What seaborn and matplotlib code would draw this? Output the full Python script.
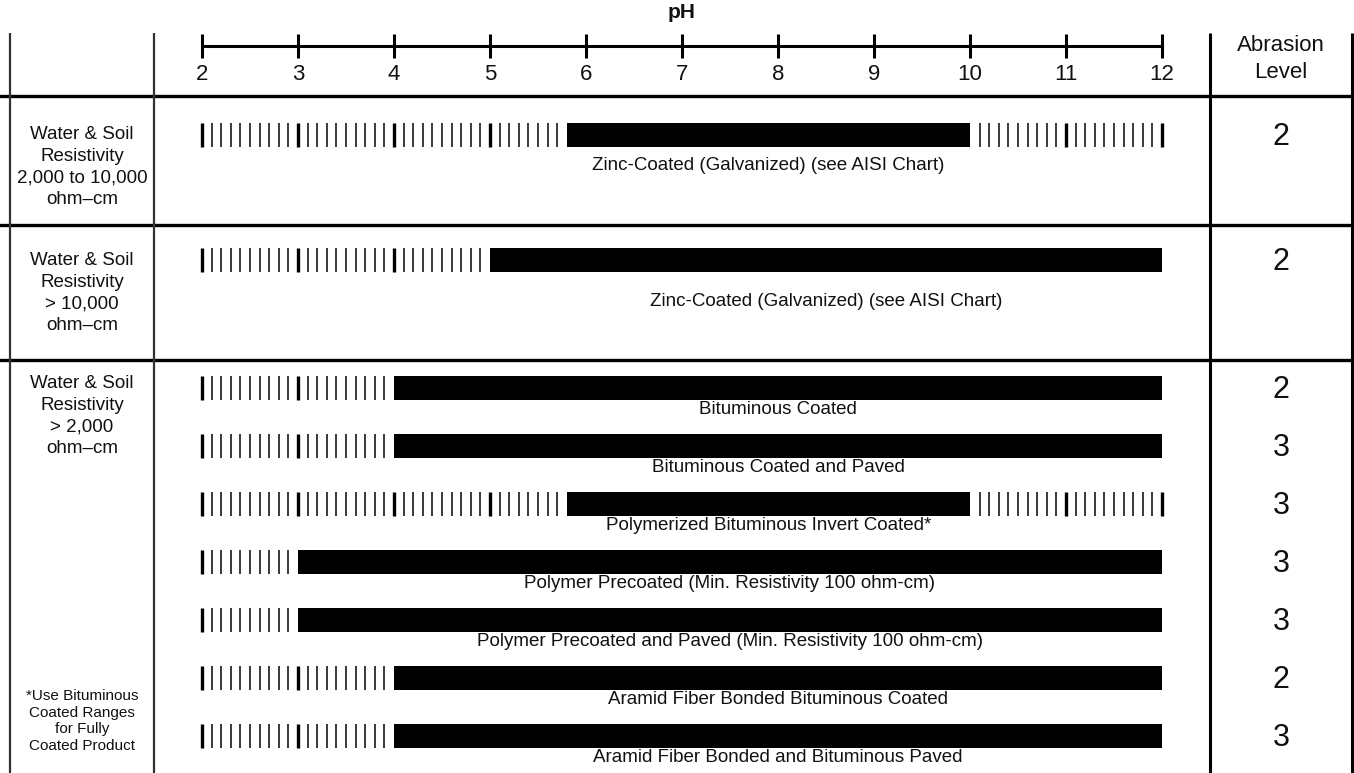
"""
Corrosion / abrasion pH range chart - table style with hatched and solid ranges
"""

import numpy as np
import matplotlib.pyplot as plt
import seaborn as sns

sns.set_theme(style="white")
plt.rcParams['font.family'] = ['Liberation Sans', 'DejaVu Sans']
plt.rcParams['text.color'] = '#111111'

# ==================================================================================
# DATA
# ==================================================================================
ph_ticks = [2, 3, 4, 5, 6, 7, 8, 9, 10, 11, 12]

group_labels = [
    "Water & Soil\nResistivity\n2,000 to 10,000\nohm\u2013cm",
    "Water & Soil\nResistivity\n> 10,000\nohm\u2013cm",
    "Water & Soil\nResistivity\n> 2,000\nohm\u2013cm",
]

products = [
    "Zinc-Coated (Galvanized) (see AISI Chart)",
    "Zinc-Coated (Galvanized) (see AISI Chart)",
    "Bituminous Coated",
    "Bituminous Coated and Paved",
    "Polymerized Bituminous Invert Coated*",
    "Polymer Precoated (Min. Resistivity 100 ohm-cm)",
    "Polymer Precoated and Paved (Min. Resistivity 100 ohm-cm)",
    "Aramid Fiber Bonded Bituminous Coated",
    "Aramid Fiber Bonded and Bituminous Paved",
]
product_group = [0, 1, 2, 2, 2, 2, 2, 2, 2]

# solid = recommended range, hatched = rest of the 2-12 scale
solid_start = [5.8, 5.0, 4.0, 4.0, 5.8, 3.0, 3.0, 4.0, 4.0]
solid_end = [10.0, 12.0, 12.0, 12.0, 10.0, 12.0, 12.0, 12.0, 12.0]
scale_min, scale_max = 2, 12

abrasion = [2, 2, 2, 3, 3, 3, 3, 2, 3]

footnote = "*Use Bituminous\nCoated Ranges\nfor Fully\nCoated Product"

# ==================================================================================
# LAYOUT (y in pixel-like units, x in pH units)
# ==================================================================================
W, H = 1354, 773
x_left = 2 - 202 / 96
x_right = 2 + (W - 202) / 96

bar_y = [135, 260, 388, 446, 504, 562, 620, 678, 736]
label_dy = [30, 42, 21, 21, 21, 21, 21, 21, 21]
bar_h = 24
group_label_y = [167, 293, 416]
row_lines = [96, 225, 360]
col_lines = [0.0, 1.5, 12.5, 13.98]
col_line_w = [1.6, 1.6, 2.2, 2.2]

fig = plt.figure(figsize=(W / 100, H / 100), dpi=100)
ax = fig.add_axes([0, 0, 1, 1])
ax.set_xlim(x_left, x_right)
ax.set_ylim(H, 0)
ax.axis('off')

# table grid
for y in row_lines:
    ax.axhline(y, color='black', lw=2.4)
for x, lw in zip(col_lines, col_line_w):
    ax.vlines(x, 33, H, color='black' if lw > 2 else '#333333', lw=lw)

# pH scale
ax.hlines(46, scale_min, scale_max, color='black', lw=2.2)
ax.vlines(ph_ticks, 34, 58, color='black', lw=2.2)
for t in ph_ticks:
    ax.text(t, 74, str(t), ha='center', va='center', fontsize=16)
ax.text(7, 12, "pH", ha='center', va='center', fontsize=15, fontweight='bold')

ax.text((col_lines[2] + col_lines[3]) / 2, 59, "Abrasion\nLevel", ha='center',
        va='center', fontsize=16, linespacing=1.4)

# group labels
left_mid = (col_lines[0] + col_lines[1]) / 2
for lab, y in zip(group_labels, group_label_y):
    ax.text(left_mid, y, lab, ha='center', va='center', fontsize=13.5, linespacing=1.38)
ax.text(left_mid, 721, footnote, ha='center', va='center', fontsize=11, linespacing=1.25)

# product rows
hatch_pos = np.round(np.arange(scale_min, scale_max + 0.001, 0.1), 1)
abr_mid = (col_lines[2] + col_lines[3]) / 2
for i, name in enumerate(products):
    y = bar_y[i]
    s, e = solid_start[i], solid_end[i]
    ax.barh(y, e - s, left=s, height=bar_h, color='black', linewidth=0)
    ticks = hatch_pos[(hatch_pos < s - 0.05) | (hatch_pos > e + 0.05)]
    major = ticks[np.isclose(ticks, np.round(ticks))]
    minor = ticks[~np.isclose(ticks, np.round(ticks))]
    ax.vlines(minor, y - bar_h / 2, y + bar_h / 2, color='#2a2a2a', lw=1.3)
    ax.vlines(major, y - bar_h / 2, y + bar_h / 2, color='black', lw=2.4)
    ax.text((s + e) / 2, y + label_dy[i], name, ha='center', va='center', fontsize=13.5)
    ax.text(abr_mid, y + 2, str(abrasion[i]), ha='center', va='center', fontsize=22)

plt.savefig('out.png', dpi=100)
plt.close()
